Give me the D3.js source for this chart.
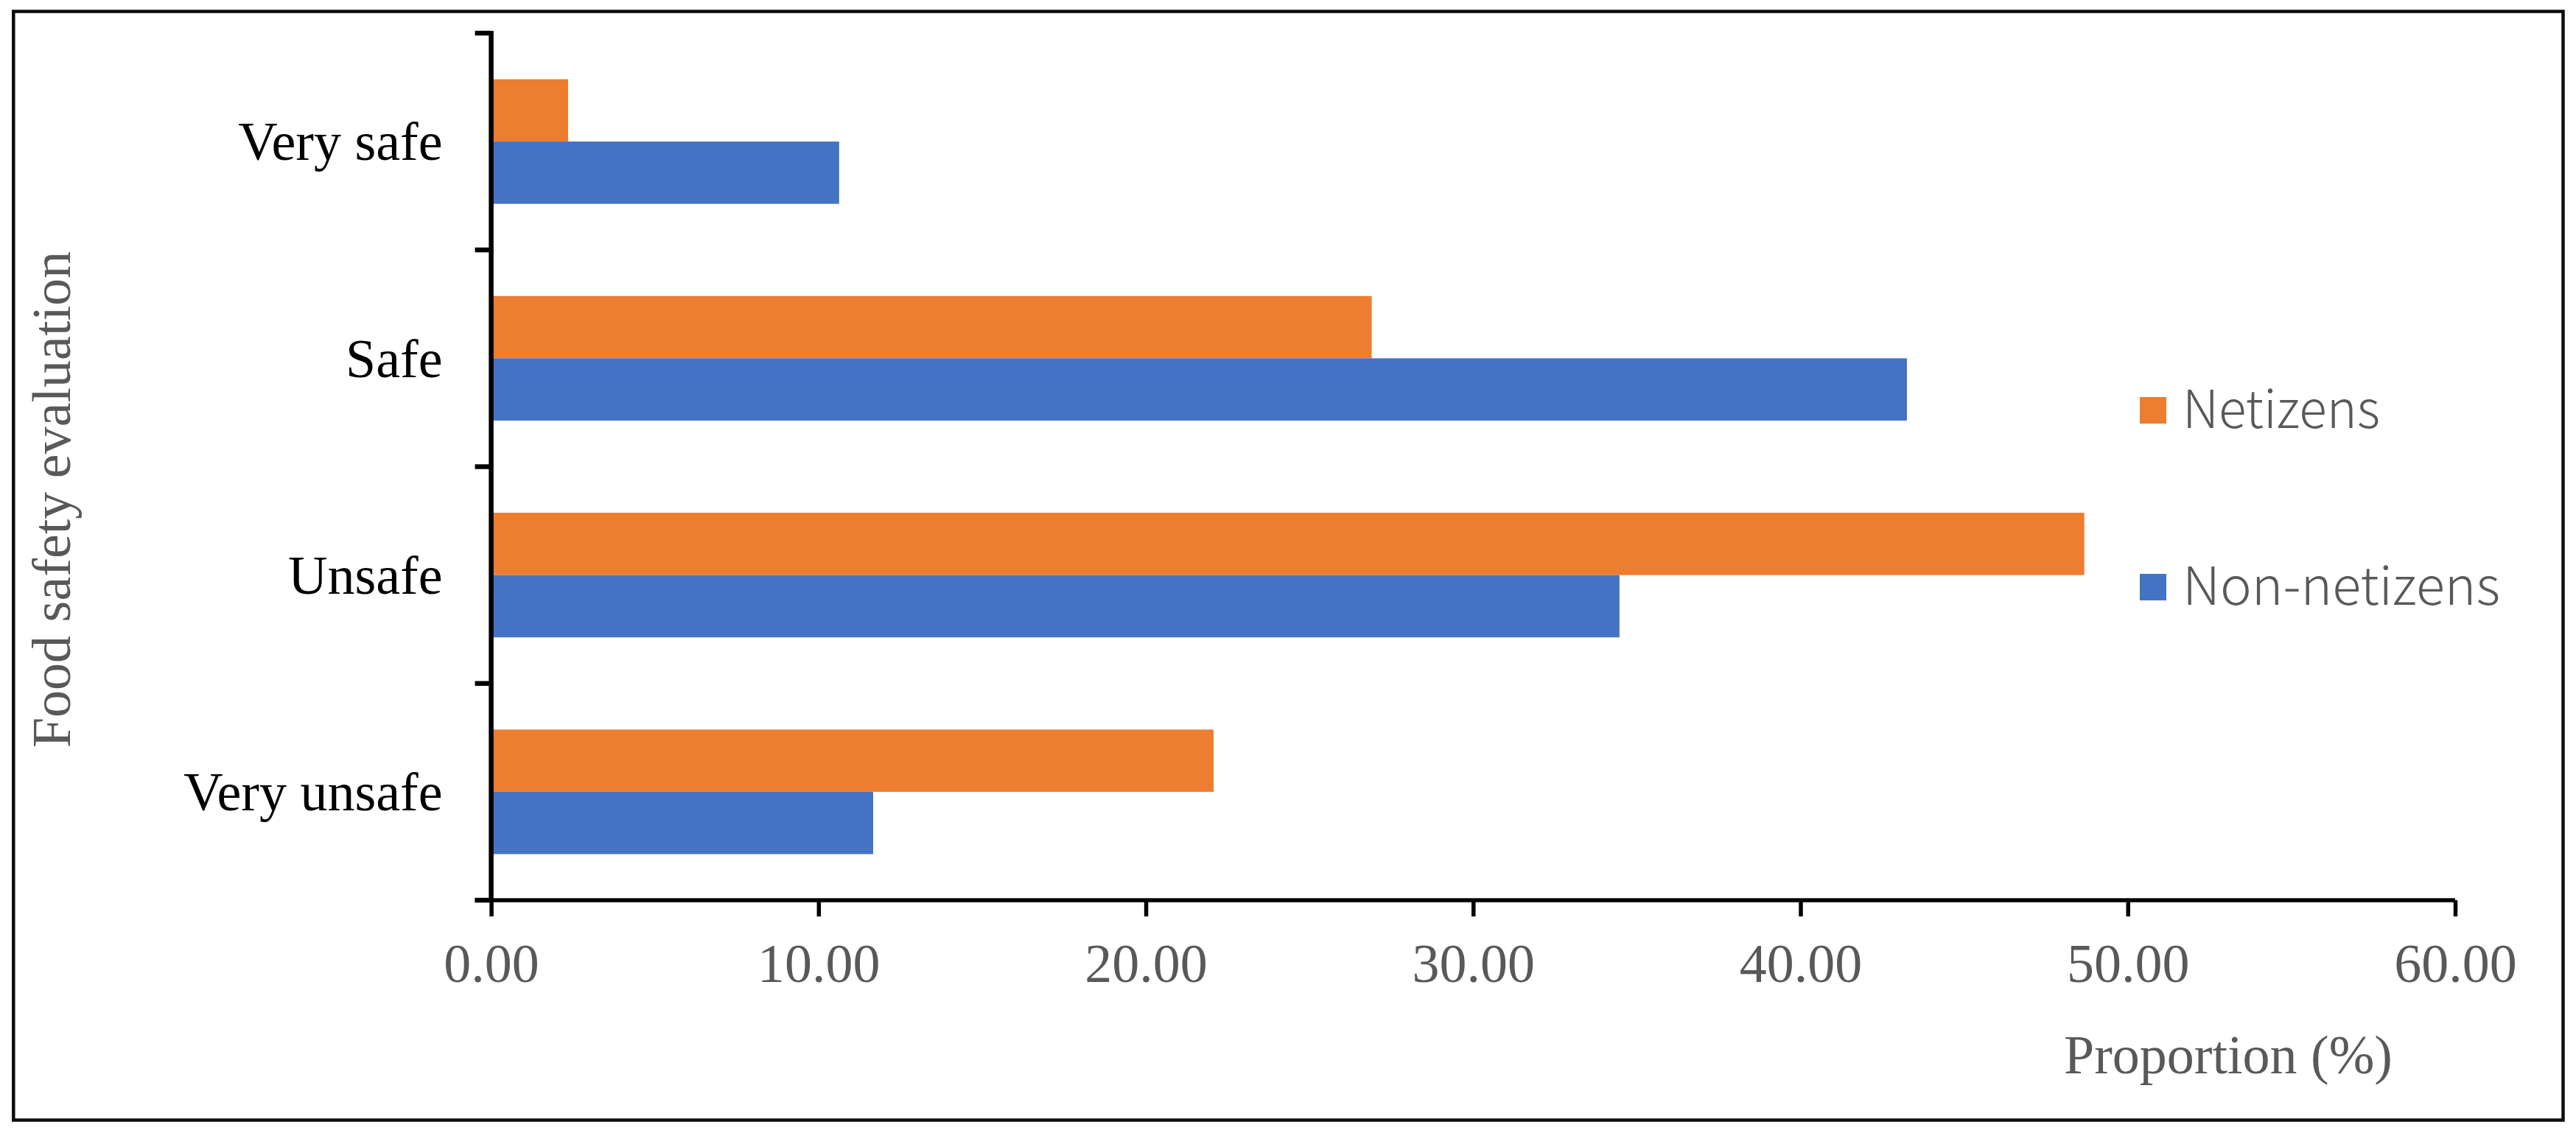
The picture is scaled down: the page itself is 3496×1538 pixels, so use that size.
<!DOCTYPE html>
<html>
<head>
<meta charset="utf-8">
<script src="https://cdn.jsdelivr.net/npm/d3@7"></script>
<style>
  html, body { margin: 0; padding: 0; background: #ffffff; }
  svg { display: block; }
</style>
</head>
<body>
<script>
// ---- data ----
const categories = ["Very safe", "Safe", "Unsafe", "Very unsafe"];
const seriesNames = ["Netizens", "Non-netizens"];
const netizens = [2.35, 26.90, 48.67, 22.07];
const nonNetizens = [10.63, 43.25, 34.47, 11.67];
const xTicks = [0, 10, 20, 30, 40, 50, 60];
const xTitle = "Proportion (%)";
const yTitle = "Food safety evaluation";
const colors = ["#ED7D31", "#4472C4"];

// ---- layout ----
const W = 3496, H = 1538;
const plot = { left: 666.6, right: 3332, top: 45, bottom: 1222 };
const serif = "'Liberation Serif', 'Times New Roman', serif";
const sans = "'Noto Sans CJK SC', 'Noto Sans', sans-serif";
const gray = "#595959";
const fs = 74;

const svg = d3.select("body").append("svg")
  .attr("width", W).attr("height", H);

// outer frame
svg.append("rect")
  .attr("x", 18.3).attr("y", 15.5)
  .attr("width", 3478.5 - 18.3).attr("height", 1520.5 - 15.5)
  .attr("fill", "none").attr("stroke", "#0d0d0d").attr("stroke-width", 4.5);

const x = d3.scaleLinear().domain([0, 60]).range([plot.left, plot.right]);
const y = d3.scaleBand().domain(categories).range([plot.top, plot.bottom]).padding(0);
const y1 = d3.scaleBand().domain(seriesNames).range([0, y.bandwidth()])
  .paddingInner(0).paddingOuter(0.74);

const rows = categories.map((c, i) => ({ cat: c, vals: [netizens[i], nonNetizens[i]] }));

// bars
const g = svg.append("g");
rows.forEach(r => {
  seriesNames.forEach((s, j) => {
    g.append("rect")
      .attr("x", x(0))
      .attr("y", y(r.cat) + y1(s))
      .attr("width", x(r.vals[j]) - x(0))
      .attr("height", y1.bandwidth())
      .attr("fill", colors[j]);
  });
});

// x axis
const xAxis = d3.axisBottom(x).tickValues(xTicks)
  .tickFormat(d3.format(".2f")).tickSize(22).tickSizeOuter(0);
const gx = svg.append("g").attr("transform", `translate(0,${plot.bottom})`).call(xAxis);
gx.select(".domain").attr("stroke", "#000").attr("stroke-width", 5.5)
  .attr("d", `M${plot.left - 22},0H${plot.right}`);
gx.selectAll(".tick line").attr("stroke", "#000").attr("stroke-width", 5.5);
gx.selectAll(".tick text")
  .attr("y", 111).attr("dy", 0)
  .attr("font-family", serif).attr("font-size", fs).attr("fill", gray);

// y axis (labels from band scale)
const yAxis = d3.axisLeft(y).tickSize(0).tickPadding(66);
const gy = svg.append("g").attr("transform", `translate(${plot.left},0)`).call(yAxis);
gy.select(".domain").remove();
gy.selectAll(".tick text")
  .attr("dy", "0.34em")
  .attr("font-family", serif).attr("font-size", fs).attr("fill", "#000");

// y axis line and boundary ticks
svg.append("line")
  .attr("x1", plot.left).attr("x2", plot.left)
  .attr("y1", plot.top - 3).attr("y2", plot.bottom)
  .attr("stroke", "#000").attr("stroke-width", 6.5);
const bounds = categories.map(c => y(c)).concat([y(categories[categories.length - 1]) + y.bandwidth()]);
svg.selectAll(".ybound").data(bounds).enter().append("line")
  .attr("x1", plot.left - 22).attr("x2", plot.left)
  .attr("y1", d => d).attr("y2", d => d)
  .attr("stroke", "#000").attr("stroke-width", 6.5);

// axis titles
svg.append("text")
  .attr("x", 3247).attr("y", 1457)
  .attr("text-anchor", "end")
  .attr("font-family", serif).attr("font-size", fs).attr("fill", gray)
  .text(xTitle);

svg.append("text")
  .attr("transform", `translate(95,${678}) rotate(-90)`)
  .attr("text-anchor", "middle")
  .attr("font-family", serif).attr("font-size", fs).attr("fill", gray)
  .text(yTitle);

// legend
const legendY = [557, 797];
const legendW = [268, 431];
seriesNames.forEach((s, j) => {
  svg.append("rect")
    .attr("x", 2904).attr("y", legendY[j] - 18)
    .attr("width", 36).attr("height", 36)
    .attr("fill", colors[j]);
  svg.append("text")
    .attr("x", 2962).attr("y", legendY[j] + 24)
    .attr("font-family", sans).attr("font-size", 71).attr("font-weight", 300)
    .attr("textLength", legendW[j]).attr("lengthAdjust", "spacingAndGlyphs")
    .attr("fill", gray)
    .text(s);
});
</script>
</body>
</html>
